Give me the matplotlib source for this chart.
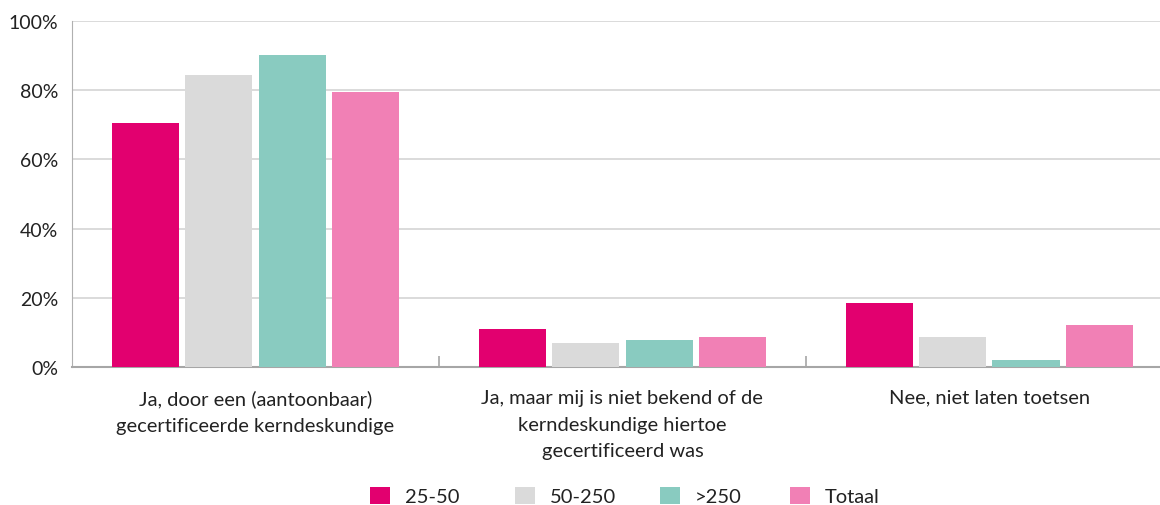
import matplotlib
matplotlib.use("Agg")
import matplotlib.pyplot as plt
from matplotlib.ticker import FuncFormatter
import numpy as np

categories = ["Ja, door een (aantoonbaar)\ngecertificeerde kerndeskundige",
              "Ja, maar mij is niet bekend of de\nkerndeskundige hiertoe\ngecertificeerd was",
              "Nee, niet laten toetsen"]
series_names = ["25-50", "50-250", ">250", "Totaal"]
v_25_50 = [70.5, 11.0, 18.5]
v_50_250 = [84.4, 6.9, 8.7]
v_250 = [90.2, 7.8, 2.0]
v_totaal = [79.5, 8.7, 12.1]
colors = ["#e2006f", "#dadada", "#89cbc0", "#f180b5"]

plt.rcParams['font.family'] = ['Lato', 'DejaVu Sans']

fig = plt.figure(figsize=(11.6, 5.06), dpi=100)
ax = fig.add_axes([72/1160, 138/506, 1088/1160, 346/506])

x = np.arange(len(categories))
width = 0.183
offsets = [-0.3, -0.1, 0.1, 0.3]
handles = []
for vals, off, c, name in zip([v_25_50, v_50_250, v_250, v_totaal], offsets, colors, series_names):
    b = ax.bar(x + off, vals, width=width, color=c, label=name, zorder=3)
    handles.append(b)

ax.set_ylim(0, 100)
ax.set_xlim(-0.5, 2.465)
ax.set_yticks(range(0, 101, 20))
ax.yaxis.set_major_formatter(FuncFormatter(lambda v, p: f"{int(v)}%"))
ax.grid(axis='y', color='#d4d4d4', linewidth=1.2, zorder=0)
ax.set_axisbelow(True)

for s in ['top', 'right']:
    ax.spines[s].set_visible(False)
ax.spines['left'].set_color('#b0b0b0')
ax.spines['bottom'].set_color('#a6a6a6')
ax.spines['bottom'].set_linewidth(1.5)

ax.tick_params(axis='y', length=0, labelsize=14, pad=10, labelcolor='#222222')
ax.set_xticks([0.5, 1.5])
ax.set_xticklabels(["", ""])
ax.tick_params(axis='x', direction='in', length=8, color='#a6a6a6', width=1.2)

for xi, lab in zip(x, categories):
    ax.text(xi, -6.3, lab, ha='center', va='top', fontsize=14.5, color='#222222',
            linespacing=1.7, transform=ax.transData, clip_on=False)

leg_x = [370, 515, 660, 790]
for h, name, lx in zip(handles, series_names, leg_x):
    leg = fig.legend([h], [name], loc='center left', bbox_to_anchor=(lx/1160, 1 - 497/506),
                     frameon=False, fontsize=14.5, handlelength=1.0, handleheight=0.95,
                     handletextpad=0.75, borderpad=0, borderaxespad=0)
    for t in leg.get_texts():
        t.set_color('#222222')

fig.savefig("out.png", dpi=100)
